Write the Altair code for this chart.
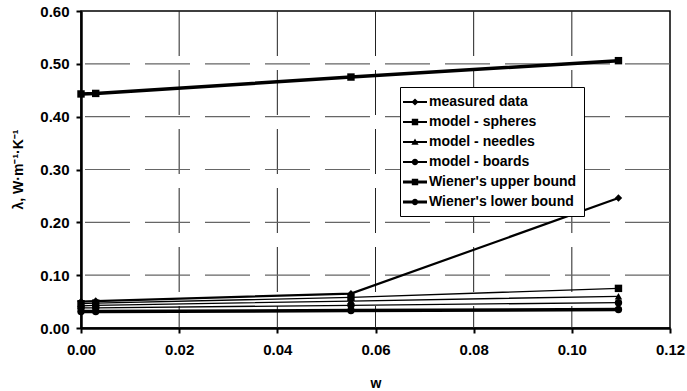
import altair as alt
import pandas as pd

# Moisture content w and thermal conductivity values for each series
w_values = [0.0, 0.003, 0.055, 0.1095]
measured = [0.050, 0.051, 0.065, 0.246]
spheres = [0.046, 0.047, 0.058, 0.075]
needles = [0.042, 0.043, 0.051, 0.060]
boards = [0.038, 0.038, 0.043, 0.048]
upper_bound = [0.443, 0.444, 0.475, 0.506]
lower_bound = [0.031, 0.031, 0.033, 0.035]

series_names = [
    "measured data",
    "model - spheres",
    "model - needles",
    "model - boards",
    "Wiener's upper bound",
    "Wiener's lower bound",
]
series_values = [measured, spheres, needles, boards, upper_bound, lower_bound]
marker_shapes = ["diamond", "square", "triangle-up", "circle", "square", "circle"]
line_widths = [2.2, 1.3, 1.3, 1.3, 3.5, 3.5]

x_ticks = [0.0, 0.02, 0.04, 0.06, 0.08, 0.10, 0.12]
y_ticks = [0.0, 0.1, 0.2, 0.3, 0.4, 0.5, 0.6]

rows = []
for name, vals, lw in zip(series_names, series_values, line_widths):
    for w, v in zip(w_values, vals):
        rows.append({"w": w, "lam": v, "series": name, "lw": lw})
df = pd.DataFrame(rows)

# Legend glyphs: a short line segment with the series marker on top
def bar(h):
    return f"M-1.5,-{h}H1.5V{h}H-1.5Z"

marker_paths = {
    "diamond": "M0,-0.45L0.45,0L0,0.45L-0.45,0Z",
    "square": "M-0.4,-0.4H0.4V0.4H-0.4Z",
    "triangle-up": "M0,-0.45L0.45,0.35H-0.45Z",
    "circle": "M-0.4,0A0.4,0.4 0 1,1 0.4,0A0.4,0.4 0 1,1 -0.4,0Z",
}
legend_paths = [
    bar(0.19 if lw >= 3 else 0.12) + marker_paths[s]
    for s, lw in zip(marker_shapes, line_widths)
]

# Shared axis definitions so the layers merge into one axis per side
x_enc = alt.X(
    "w:Q",
    scale=alt.Scale(domain=[0, 0.12], nice=False, zero=False),
    axis=alt.Axis(values=x_ticks, format=".2f", title="w", grid=False),
)
y_enc = alt.Y(
    "lam:Q",
    scale=alt.Scale(domain=[0, 0.6], nice=False),
    axis=alt.Axis(values=y_ticks, format=".2f", title="λ, W·m⁻¹·K⁻¹", grid=False),
)

# Dashed gridlines at the inner tick positions
vgrid = (
    alt.Chart(pd.DataFrame({"w": x_ticks[1:-1]}))
    .mark_rule(color="#222222", strokeWidth=1, strokeDash=[45, 14])
    .encode(x=x_enc)
)
hgrid = (
    alt.Chart(pd.DataFrame({"lam": y_ticks[1:-1]}))
    .mark_rule(color="#666666", strokeWidth=1.2, strokeDash=[45, 15])
    .encode(y=y_enc)
)

base = alt.Chart(df)

# One line layer per stroke width
line_layers = [
    base.transform_filter(alt.datum.lw == lw)
    .mark_line(color="black", strokeWidth=lw)
    .encode(x=x_enc, y=y_enc, detail="series:N")
    for lw in sorted(set(line_widths))
]

points = base.mark_point(filled=True, color="black", opacity=1, size=55).encode(
    x=x_enc,
    y=y_enc,
    shape=alt.Shape(
        "series:N",
        scale=alt.Scale(domain=series_names, range=marker_shapes),
        legend=None,
    ),
)

legend_layer = (
    base.transform_calculate(key="datum.series")
    .transform_filter("false")
    .mark_point(filled=True, color="black", opacity=1)
    .encode(
        x=x_enc,
        y=y_enc,
        shape=alt.Shape(
            "key:N",
            scale=alt.Scale(domain=series_names, range=legend_paths),
            legend=alt.Legend(
                title=None,
                orient="none",
                legendX=319,
                legendY=76,
                padding=7,
                symbolSize=256,
                symbolFillColor="black",
                symbolStrokeColor="black",
                symbolStrokeWidth=0,
                symbolOpacity=1,
                labelOffset=6,
                rowPadding=5,
                labelFont="Liberation Sans",
                labelFontSize=14,
                labelFontWeight="bold",
                labelColor="black",
                fillColor="white",
                strokeColor="black",
                labelLimit=300,
            ),
        ),
    )
)

chart = (
    alt.layer(vgrid, hgrid, *line_layers, points, legend_layer)
    .resolve_scale(shape="independent")
    .properties(
        width=589,
        height=317,
        autosize=alt.AutoSizeParams(type="none"),
        padding={"left": 81, "top": 11, "right": 17, "bottom": 63},
        background="white",
    )
    .configure_view(stroke="black", strokeWidth=1.5)
    .configure_axis(
        grid=False,
        gridOpacity=0,
        labelFont="Liberation Sans",
        labelFontSize=15,
        labelFontWeight="bold",
        labelColor="black",
        labelFlush=False,
        titleFont="Liberation Sans",
        titleFontSize=14,
        titleFontWeight="bold",
        titleColor="black",
        domainColor="black",
        domainWidth=2.5,
        tickColor="black",
        tickWidth=2,
        tickSize=5,
    )
    .configure_axisX(
        labelPadding=9,
        titleBaseline="alphabetic",
        titleY=59,
    )
    .configure_axisY(
        labelPadding=7,
        titleX=-59,
        titleY=158,
        titleAngle=-90,
        titleAlign="center",
        titleBaseline="alphabetic",
    )
)

chart.save("out.html", embed_options={"renderer": "svg", "actions": False})
